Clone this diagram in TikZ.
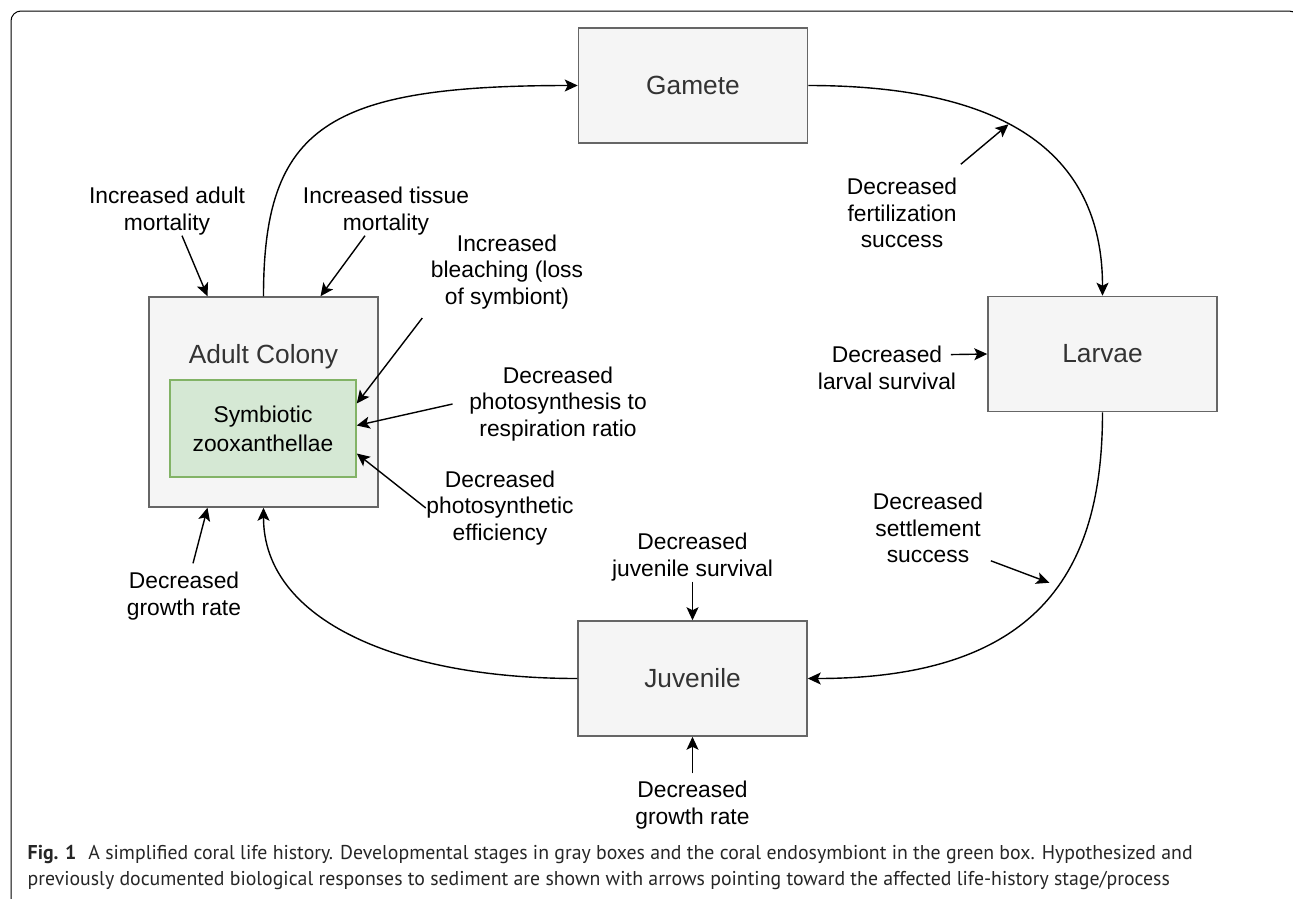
\documentclass[tikz,border=0pt]{standalone}
\usepackage{fontspec}
\setmainfont{Liberation Sans}
\newfontfamily\capfont[FakeStretch=0.99]{PT Sans}
\usepackage{tikz}
\usetikzlibrary{arrows.meta}

\definecolor{stagefill}{HTML}{F5F5F5}
\definecolor{stageline}{HTML}{666666}
\definecolor{stagetext}{HTML}{333333}
\definecolor{symfill}{HTML}{D5E8D4}
\definecolor{symline}{HTML}{82B366}

\begin{document}
\begin{tikzpicture}[x=1pt,y=-1pt,->,>={Stealth[length=13pt,width=12pt,inset=3pt]},
                    line width=1.4pt]

  \tikzstyle{stage}=[draw=stageline,fill=stagefill,line width=1.5pt,text=stagetext,
                     font=\fontsize{26.3}{31}\selectfont,minimum width=229pt,minimum height=115pt]
  \tikzstyle{symb}=[draw=symline,fill=symfill,line width=1.5pt,align=center,
                    font=\fontsize{22.8}{29}\selectfont,minimum width=186pt,minimum height=97pt]
  \tikzstyle{effect}=[align=center,inner sep=0pt,font=\fontsize{22.8}{26.7}\selectfont]

  \useasboundingbox (0,0) rectangle (1293,898);
  \clip (0,0) rectangle (1293,898);
  \draw[-,line width=1pt,rounded corners=10pt] (11,910) -- (11,11) -- (1299,11) -- (1299,910);

  % life stages
  \node[stage]                          (gamete)   at (693,85.5)   {Gamete};
  \node[stage]                          (larvae)   at (1102.5,354) {Larvae};
  \node[stage]                          (juvenile) at (692.5,678.5) {Juvenile};
  \node[stage,minimum height=210pt]     (adult)    at (263.5,402)  {};
  \node[text=stagetext,font=\fontsize{26.3}{31}\selectfont] (adultname) at (263.5,357) {Adult Colony};
  \node[symb]                           (green)    at (263,428.5)  {Symbiotic\\zooxanthellae};

  % responses
  \node[effect] (adultmort)  at (167,211)   {Increased adult\\mortality};
  \node[effect] (tissuemort) at (386,211)   {Increased tissue\\mortality};
  \node[effect] (bleach)     at (507,272)   {Increased\\bleaching (loss\\of symbiont)};
  \node[effect] (photoresp)  at (558,404)   {Decreased\\photosynthesis to\\respiration ratio};
  \node[effect] (photoeff)   at (500,508)   {Decreased\\photosynthetic\\efficiency};
  \node[effect] (growthadult) at (184,596)  {Decreased\\growth rate};
  \node[effect] (fert)       at (902,213)   {Decreased\\fertilization\\success};
  \node[effect] (larval)     at (887,368)   {Decreased\\larval survival};
  \node[effect] (settle)     at (928,528)   {Decreased\\settlement\\success};
  \node[effect] (juvsurv)    at (692.5,557) {Decreased\\juvenile survival};
  \node[effect] (growthjuv)  at (692.5,805) {Decreased\\growth rate};

  % life cycle
  \draw (adult.north) .. controls +(0,-170) and +(-250,0) .. (gamete.west);
  \draw (gamete.east) .. controls +(192,0) and +(0,-146) .. (larvae.north)
        coordinate[pos=0.44] (ferthit);
  \draw (larvae.south) .. controls +(0,148) and +(241,0) .. (juvenile.east)
        coordinate[pos=0.45] (settlehit);
  \draw (juvenile.west) .. controls +(-178,0) and +(0,113) .. (adult.south);

  % effect arrows
  \draw ([xshift=15pt]adultmort.south)    -- ([xshift=-56pt]adult.north);
  \draw ([xshift=-21pt]tissuemort.south)  -- ([xshift=57pt]adult.north);
  \draw ([xshift=-8pt,yshift=-8pt]bleach.south west) -- ([yshift=25pt]green.east);
  \draw ([xshift=-16pt]photoresp.west)    -- ([yshift=3pt]green.east);
  \draw (photoeff.west)                   -- ([yshift=-25pt]green.east);
  \draw ([xshift=9pt,yshift=8pt]growthadult.north) -- ([xshift=-56pt]adult.south);
  \draw ([xshift=3pt,yshift=13pt]fert.north east) -- (ferthit);
  \draw ([xshift=-6pt,yshift=-9pt]larval.north east) -- (larvae.west);
  \draw[shorten >=9pt] ([xshift=7pt,yshift=3pt]settle.south east) -- (settlehit);
  \draw (juvsurv.south)                   -- (juvenile.north);
  \draw ([yshift=7pt]growthjuv.north)     -- (juvenile.south);

  % caption
  \node[anchor=base west,inner sep=0pt,font=\capfont\fontsize{20}{25}\selectfont,text=black!85] (cap1) at (27,859)
    {\textbf{Fig. 1}\hspace{0.6em}A simplified coral life history. Developmental stages in gray boxes and the coral endosymbiont in the green box. Hypothesized and};
  \node[anchor=base west,inner sep=0pt,font=\capfont\fontsize{20}{25}\selectfont,text=black!85] (cap2) at (27,885)
    {previously documented biological responses to sediment are shown with arrows pointing toward the affected life-history stage/process};
\end{tikzpicture}
\end{document}
